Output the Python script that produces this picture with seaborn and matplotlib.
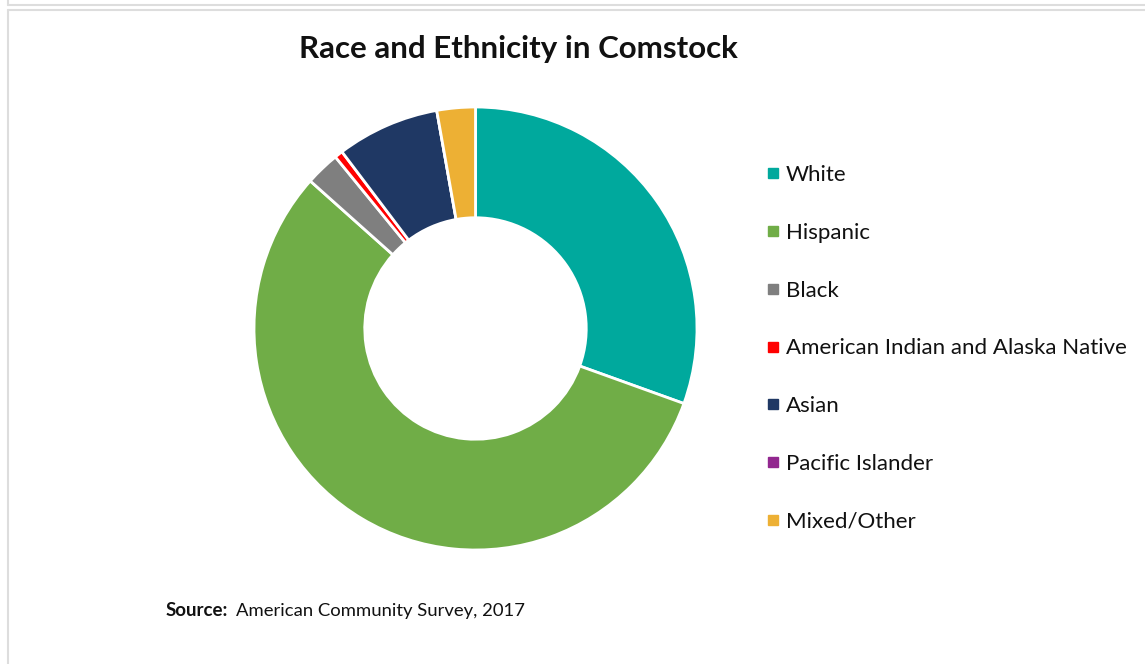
import matplotlib
matplotlib.use("Agg")
import matplotlib.pyplot as plt
from matplotlib.lines import Line2D
import seaborn as sns

# === Data (percent of population) ===
groups = ['White', 'Hispanic', 'Black', 'American Indian and Alaska Native',
          'Asian', 'Pacific Islander', 'Mixed/Other']
shares = [30.5, 56.1, 2.5, 0.6, 7.5, 0.0, 2.8]
colors = ['#00A99D', '#70AD47', '#7F7F7F', '#FF0000', '#1F3864', '#92278F', '#EDB034']

title = "Race and Ethnicity in Comstock"
source_label = "Source:"
source_text = "American Community Survey, 2017"

# === Style ===
sns.set_theme(style="white")
plt.rcParams['font.family'] = ['Lato', 'DejaVu Sans']
palette = sns.color_palette(colors)

W, H = 1145, 664
fig = plt.figure(figsize=(W / 100, H / 100), dpi=100)

# === Donut ===
cx, cy, r = 475.5, 328.5, 221.5
ax = fig.add_axes([(cx - r) / W, (H - cy - r) / H, 2 * r / W, 2 * r / H])
ax.pie(shares, colors=palette, startangle=90, counterclock=False,
       wedgeprops=dict(width=0.5, edgecolor='white', linewidth=2))
ax.set_xlim(-1, 1)
ax.set_ylim(-1, 1)
ax.axis('off')

# === Title / source ===
fig.text(518 / W, 1 - 49 / H, title, ha='center', va='center',
         fontsize=22.5, fontweight='bold', color='#111111')
fig.text(166 / W, 1 - 611 / H, source_label, ha='left', va='center',
         fontsize=13.5, fontweight='bold', color='#111111')
fig.text(236 / W, 1 - 611 / H, source_text, ha='left', va='center',
         fontsize=13.3, color='#111111')

# === Legend ===
handles = [Line2D([], [], marker='s', linestyle='none', markersize=7.5,
                  markerfacecolor=c, markeredgecolor=c) for c in palette]
fig.legend(handles, groups, loc='upper left', bbox_to_anchor=(766 / W, 1 - 165 / H),
           frameon=False, fontsize=16, labelspacing=1.70, handlelength=0.6,
           handletextpad=0.3, borderpad=0, borderaxespad=0, labelcolor='#111111')

# === Frame lines ===
grey = '#DDDDDD'
fig.add_artist(Line2D([8 / W, 1], [1 - 4.5 / H, 1 - 4.5 / H], color=grey, lw=1.5))
fig.add_artist(Line2D([8 / W, 8 / W], [1, 1 - 4.5 / H], color=grey, lw=1.5))
fig.add_artist(Line2D([8 / W, 1], [1 - 10 / H, 1 - 10 / H], color=grey, lw=1.5))
fig.add_artist(Line2D([8 / W, 8 / W], [0, 1 - 10 / H], color=grey, lw=1.5))

fig.savefig("out.png", dpi=100, facecolor='white')
